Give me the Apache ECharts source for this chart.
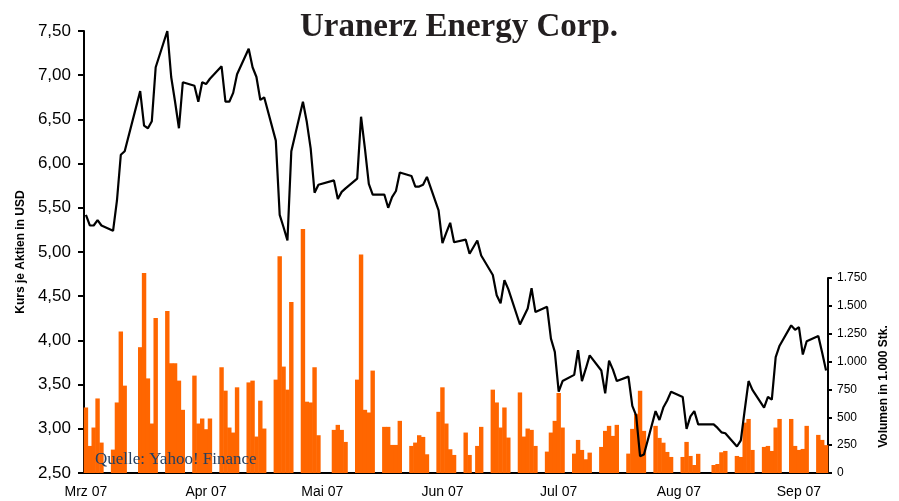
<!DOCTYPE html>
<html><head><meta charset="utf-8">
<script src="https://cdn.jsdelivr.net/npm/echarts@6/dist/echarts.min.js"></script>
<style>html,body{margin:0;padding:0;background:#fff}#c{width:899px;height:501px}</style>
</head><body><div id="c"></div>
<script>
const tradeDates = [
'2007-03-05','2007-03-06','2007-03-07','2007-03-08','2007-03-09',
'2007-03-12','2007-03-13','2007-03-14','2007-03-15',
'2007-03-19','2007-03-20','2007-03-21','2007-03-22','2007-03-23',
'2007-03-26','2007-03-27','2007-03-28','2007-03-29','2007-03-30',
'2007-04-02','2007-04-03','2007-04-04','2007-04-05','2007-04-06',
'2007-04-09','2007-04-10','2007-04-11','2007-04-12','2007-04-13',
'2007-04-16','2007-04-17','2007-04-18','2007-04-19','2007-04-20',
'2007-04-23','2007-04-24','2007-04-25','2007-04-26','2007-04-27',
'2007-04-30','2007-05-01','2007-05-02','2007-05-03','2007-05-04',
'2007-05-08','2007-05-09','2007-05-10','2007-05-11',
'2007-05-14','2007-05-15','2007-05-16','2007-05-17','2007-05-18',
'2007-05-21','2007-05-22','2007-05-23','2007-05-24','2007-05-25',
'2007-05-28','2007-05-29','2007-05-30','2007-05-31','2007-06-01',
'2007-06-04','2007-06-05','2007-06-06','2007-06-07','2007-06-08',
'2007-06-11','2007-06-12','2007-06-14','2007-06-15',
'2007-06-18','2007-06-19','2007-06-20','2007-06-21','2007-06-22',
'2007-06-25','2007-06-26','2007-06-27','2007-06-28','2007-06-29',
'2007-07-02','2007-07-03','2007-07-04','2007-07-05','2007-07-06',
'2007-07-09','2007-07-10','2007-07-11','2007-07-12','2007-07-13',
'2007-07-16','2007-07-17','2007-07-18','2007-07-19','2007-07-20',
'2007-07-23','2007-07-24','2007-07-25','2007-07-26','2007-07-27',
'2007-07-30','2007-07-31','2007-08-01','2007-08-02','2007-08-03',
'2007-08-06','2007-08-07','2007-08-08','2007-08-09','2007-08-10',
'2007-08-14','2007-08-15','2007-08-16','2007-08-17',
'2007-08-20','2007-08-21','2007-08-22','2007-08-23','2007-08-24',
'2007-08-27','2007-08-28','2007-08-29','2007-08-30','2007-08-31',
'2007-09-03','2007-09-04','2007-09-05','2007-09-06','2007-09-07',
'2007-09-10','2007-09-11','2007-09-12'
];
const prices = [
5.42,5.30,5.30,5.36,5.30,
5.24,5.58,6.10,6.14,
6.82,6.43,6.40,6.48,7.09,
7.50,6.98,6.70,6.40,6.92,
6.88,6.70,6.92,6.90,6.96,
7.10,6.70,6.70,6.80,7.01,
7.30,7.09,6.98,6.72,6.75,
6.26,5.42,5.28,5.13,6.14,
6.70,6.47,6.17,5.67,5.76,
5.81,5.60,5.68,5.72,
5.83,6.53,6.17,5.77,5.65,
5.65,5.50,5.62,5.69,5.90,
5.86,5.74,5.74,5.76,5.85,
5.47,5.10,5.22,5.33,5.11,
5.14,4.98,5.13,4.96,
4.74,4.51,4.42,4.68,4.58,
4.18,4.27,4.36,4.59,4.32,
4.38,4.02,3.87,3.42,3.54,
3.61,3.89,3.54,3.68,3.83,
3.66,3.40,3.77,3.67,3.54,
3.59,3.26,3.15,2.69,2.71,
3.20,3.10,3.24,3.32,3.42,
3.36,3.00,3.14,3.20,3.05,
3.05,3.01,2.96,2.95,
2.80,2.87,3.21,3.54,3.44,
3.24,3.36,3.33,3.81,3.94,
4.17,4.12,4.15,3.84,3.99,
4.05,3.86,3.66
];
const volumes = [
588,243,408,669,273,
210,633,1270,784,
1129,1795,849,444,1390,
1453,985,985,829,567,
874,444,489,393,489,
949,739,408,363,769,
813,829,327,649,399,
838,1945,955,748,1534,
2189,640,633,949,339,
387,432,387,279,
838,1961,567,543,919,
414,414,252,252,468,
243,273,339,324,168,
549,769,444,213,162,
363,162,243,414,
748,633,408,588,318,
723,327,399,387,243,
192,363,468,718,408,
174,297,207,123,183,
234,378,423,333,432,
174,396,531,738,378,
423,315,272,189,144,
144,279,153,72,172,
72,81,186,198,
153,144,452,485,207,
234,243,198,408,485,
485,243,207,216,423,
342,297,250
];
const monthNames = ['Jan','Feb','Mrz','Apr','Mai','Jun','Jul','Aug','Sep','Okt','Nov','Dez'];

// calendar-day category axis (like a date axis)
const days = [];
{
  let t = Date.parse(tradeDates[0] + 'T00:00:00Z');
  const end = Date.parse(tradeDates[tradeDates.length - 1] + 'T00:00:00Z');
  while (t <= end) { days.push(new Date(t).toISOString().slice(0, 10)); t += 86400000; }
}
const pMap = {}, vMap = {};
tradeDates.forEach((k, i) => { pMap[k] = prices[i]; vMap[k] = volumes[i]; });
const priceData = days.map(k => (k in pMap ? pMap[k] : null));
const volData = days.map(k => (k in vMap ? vMap[k] : null));
const tickDay = (i, v) => v.slice(8, 10) === '05';
const monthLabel = v => monthNames[+v.slice(5, 7) - 1] + ' ' + v.slice(2, 4);

const L = 84, R = 71, B = 28;
const chart = echarts.init(document.getElementById('c'), null, { renderer: 'canvas' });
chart.setOption({
  animation: false,
  backgroundColor: '#fff',
  title: [
    { text: 'Uranerz Energy Corp.', left: 454, top: 6, textAlign: 'center',
      textStyle: { fontFamily: 'Liberation Serif', fontWeight: 'bold', fontSize: 33, color: '#231F20' } },
    { text: 'Quelle: Yahoo! Finance', left: 90, top: 446,
      textStyle: { fontFamily: 'Liberation Serif', fontWeight: 'normal', fontSize: 17, color: '#243F60' } }
  ],
  grid: [
    { left: L, right: R, top: 31, bottom: B },
    { left: L, right: R, top: 278, bottom: B }
  ],
  xAxis: [
    { type: 'category', gridIndex: 0, data: days, boundaryGap: true,
      axisLine: { lineStyle: { color: '#000', width: 2 } },
      axisTick: { interval: tickDay, length: 5, lineStyle: { color: '#000', width: 2 } },
      axisLabel: { interval: tickDay, formatter: monthLabel, fontFamily: 'Liberation Sans', fontSize: 14, color: '#000', margin: 12 },
      splitLine: { show: false } },
    { type: 'category', gridIndex: 1, data: days, boundaryGap: true, show: false }
  ],
  yAxis: [
    { type: 'value', gridIndex: 0, position: 'left', min: 2.5, max: 7.5, interval: 0.5,
      axisLine: { show: true, lineStyle: { color: '#000', width: 2 } },
      axisTick: { show: true, length: 6, lineStyle: { color: '#000', width: 2 } },
      axisLabel: { formatter: v => v.toFixed(2).replace('.', ','), fontFamily: 'Liberation Sans', fontSize: 17, color: '#000', margin: 13 },
      splitLine: { show: false },
      name: 'Kurs je Aktien in USD', nameLocation: 'middle', nameGap: 55,
      nameTextStyle: { fontFamily: 'Liberation Sans', fontWeight: 'bold', fontSize: 12, color: '#000' } },
    { type: 'value', gridIndex: 1, position: 'right', min: 0, max: 1750, interval: 250,
      axisLine: { show: true, lineStyle: { color: '#000', width: 2 } },
      axisTick: { show: true, length: 4, lineStyle: { color: '#000', width: 2 } },
      axisLabel: { formatter: v => v >= 1000 ? Math.floor(v / 1000) + '.' + String(v % 1000).padStart(3, '0') : String(v),
        fontFamily: 'Liberation Sans', fontSize: 12, color: '#000', margin: 9 },
      splitLine: { show: false },
      name: 'Volumen in 1.000 Stk.', nameLocation: 'middle', nameGap: 47,
      nameTextStyle: { fontFamily: 'Liberation Sans', fontWeight: 'bold', fontSize: 12, color: '#000', padding: [0, 22, 0, 0] } }
  ],
  series: [
    { type: 'bar', xAxisIndex: 1, yAxisIndex: 1, data: volData, barCategoryGap: '-14%', clip: false,
      itemStyle: { color: '#FF6600' }, z: 1, silent: true },
    { type: 'line', xAxisIndex: 0, yAxisIndex: 0, data: priceData, connectNulls: true,
      showSymbol: false, symbol: 'none', lineStyle: { color: '#000', width: 2.2 }, z: 5, silent: true }
  ]
});
</script></body></html>
